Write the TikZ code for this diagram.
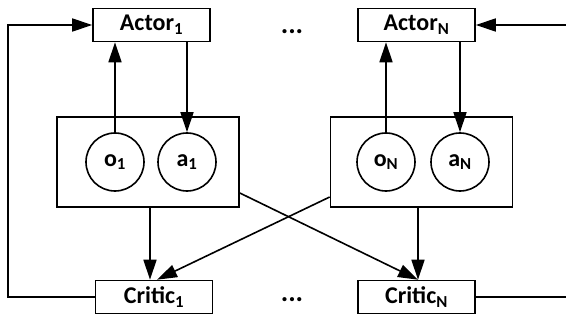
\documentclass[tikz,border=0pt]{standalone}
\usepackage{fontspec}
\setmainfont{Carlito}
\usetikzlibrary{arrows.meta}
\begin{document}
\begin{tikzpicture}[x=1pt,y=-1pt,
  line width=1.6pt,
  >={Triangle[length=20pt,width=13pt]},
  lbl/.style={draw,rectangle,minimum width=117pt,minimum height=33pt,inner sep=0pt,font=\bfseries\fontsize{24}{26}\selectfont},
  grp/.style={draw,rectangle,minimum width=182pt,minimum height=90pt,inner sep=0pt},
  var/.style={draw,circle,minimum size=58pt,inner sep=0pt,font=\bfseries\fontsize{24}{26}\selectfont},
  dots/.style={font=\bfseries\fontsize{28}{30}\selectfont}]
\useasboundingbox (0,0) rectangle (566,321);
% actors
\node[lbl] (act1) at (151.5,25) {Actor\textsubscript{1}};
\node[lbl] (actN) at (416.5,25) {Actor\textsubscript{N}};
% critics
\node[lbl] (crt1) at (154,297) {Critic\textsubscript{1}};
\node[lbl] (crtN) at (416.5,297) {Critic\textsubscript{N}};
% agent groups
\node[grp] (g1) at (148,162) {};
\node[grp] (gN) at (421.5,162) {};
\node[var] (o1) at (115,162) {o\textsubscript{1}};
\node[var] (a1) at (187,162) {a\textsubscript{1}};
\node[var] (oN) at (386,162) {o\textsubscript{N}};
\node[var] (aN) at (460,162) {a\textsubscript{N}};
% ellipses
\node[dots] (d1) at (292,32) {...};
\node[dots] (d2) at (292,300) {...};
% free ends of the outer loops
\coordinate (l1) at (8,297);
\coordinate (l2) at (8,25);
\coordinate (r1) at (566,297);
\coordinate (r2) at (566,25);
% observation / action arrows
\draw[->] (o1.north) -- (o1.north |- act1.south);
\draw[->] (a1.north |- act1.south) -- (a1.north);
\draw[->] (oN.north) -- (oN.north |- actN.south);
\draw[->] (aN.north |- actN.south) -- (aN.north);
% groups to critics
\draw[->] (g1.south -| 150,0) -- (150,0 |- crt1.north);
\draw[->] (gN.south -| 418,0) -- (418,0 |- crtN.north);
\draw[->] (g1.east |- 0,193) -- (crtN.north -| 418,0);
\draw[->] (gN.west |- 0,197) -- (crt1.north -| 157,0);
% outer feedback loops
\draw[->] (crt1.west) -- (l1) -- (l2) -- (act1.west);
\draw (crtN.east) -- (r1);
\draw[->] (r2) -- (actN.east);
\end{tikzpicture}
\end{document}
